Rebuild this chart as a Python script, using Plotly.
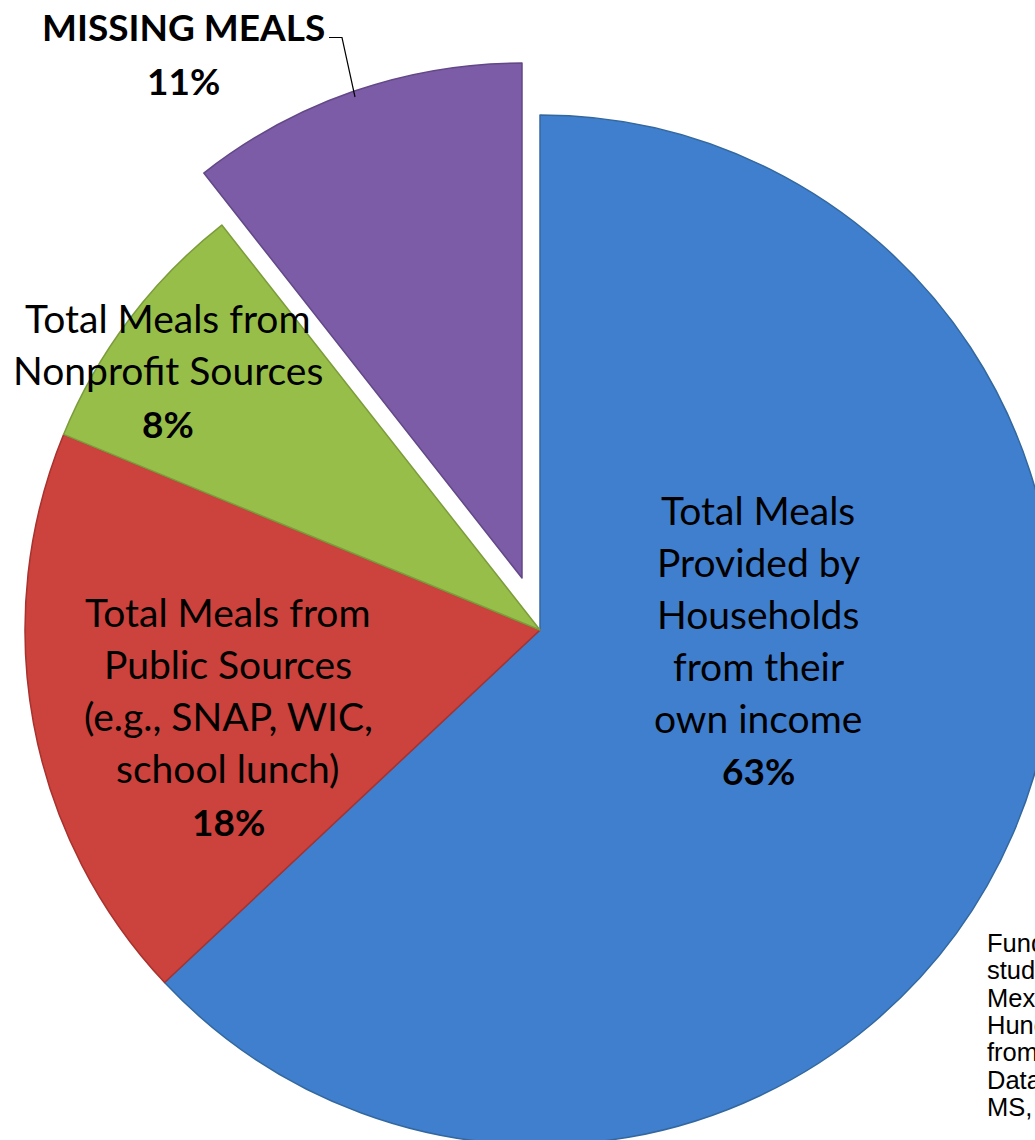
import plotly.graph_objects as go

# ---------------- data ----------------
categories = [
    "Total Meals Provided by Households from their own income",
    "Total Meals from Public Sources (e.g., SNAP, WIC, school lunch)",
    "Total Meals from Nonprofit Sources",
    "MISSING MEALS",
]
shares = [63.0, 18.2, 8.2, 10.6]          # slice sizes
share_labels = ["63%", "18%", "8%", "11%"]  # printed labels
slice_colors = ["#407FCE", "#CC423D", "#98BE4A", "#7C5BA7"]
edge_colors = ["#33689F", "#A8322E", "#7C9C3B", "#634887"]
exploded_category = "MISSING MEALS"

label_lines = [
    ["Total Meals", "Provided by", "Households", "from their", "own income"],
    ["Total Meals from", "Public Sources", "(e.g., SNAP, WIC,", "school lunch)"],
    ["Total Meals from", "Nonprofit Sources"],
    ["MISSING MEALS"],
]
note_lines = ["Funding", "study", "Mexico", "Hunger", "from", "Data", "MS,"]

# ---------------- layout helpers ----------------
W, H = 1060, 1150
CX, CY, R = 540, 630, 515
PULL_DX, PULL_DY = -18, -52


def fx(px):
    return px / W


def fy(py):
    return 1 - py / H


def domain_at(cx, cy):
    return dict(x=[fx(cx - R), fx(cx + R)], y=[fy(cy + R), fy(cy - R)])


transparent = "rgba(0,0,0,0)"
base_colors = [transparent if c == exploded_category else col
               for c, col in zip(categories, slice_colors)]
base_edges = [transparent if c == exploded_category else col
              for c, col in zip(categories, edge_colors)]
pulled_colors = [col if c == exploded_category else transparent
                 for c, col in zip(categories, slice_colors)]
pulled_edges = [col if c == exploded_category else transparent
                for c, col in zip(categories, edge_colors)]

fig = go.Figure()
fig.add_trace(go.Pie(
    labels=categories, values=shares, sort=False, direction="clockwise",
    rotation=0, textinfo="none", hoverinfo="label+percent",
    marker=dict(colors=base_colors, line=dict(color=base_edges, width=1.5)),
    domain=domain_at(CX, CY), showlegend=False,
))
fig.add_trace(go.Pie(
    labels=categories, values=shares, sort=False, direction="clockwise",
    rotation=0, textinfo="none", hoverinfo="skip",
    marker=dict(colors=pulled_colors, line=dict(color=pulled_edges, width=1.5)),
    domain=domain_at(CX + PULL_DX, CY + PULL_DY), showlegend=False,
))

FONT = "Lato, 'Open Sans', sans-serif"
FS_REG = 39
FS_BOLD = 37
LINE = 52

# (center x, first line center y) for each label block
block_pos = [(758, 510), (228, 612), (168, 318), (183, 27)]

annotations = []
for lines, lab, (bx, by), cat in zip(label_lines, share_labels, block_pos, categories):
    bold_title = cat == exploded_category
    for i, t in enumerate(lines):
        annotations.append(dict(
            x=fx(bx), y=fy(by + i * LINE), xref="paper", yref="paper",
            text=f"<b>{t}</b>" if bold_title else t, showarrow=False,
            xanchor="center", yanchor="middle",
            font=dict(family=FONT, size=FS_BOLD if bold_title else FS_REG,
                      color="black"),
        ))
    annotations.append(dict(
        x=fx(bx), y=fy(by + len(lines) * LINE + 1),
        xref="paper", yref="paper", text=f"<b>{lab}</b>", showarrow=False,
        xanchor="center", yanchor="middle",
        font=dict(family=FONT, size=FS_BOLD, color="black"),
    ))

for i, t in enumerate(note_lines):
    annotations.append(dict(
        x=fx(987), y=fy(943 + i * 27.3), xref="paper", yref="paper",
        text=t, showarrow=False, xanchor="left", yanchor="middle",
        xshift=-2,
        font=dict(family="'Liberation Sans', Arial, sans-serif", size=25.5, color="black"),
    ))

leader = dict(
    type="path", xref="paper", yref="paper",
    path=f"M {fx(329)} {fy(37.5)} L {fx(342)} {fy(37.5)} L {fx(355)} {fy(97)}",
    line=dict(color="black", width=1.2),
)

fig.update_layout(
    width=W, height=H, autosize=False,
    margin=dict(l=0, r=0, t=0, b=0),
    paper_bgcolor="white", plot_bgcolor="white",
    annotations=annotations, shapes=[leader],
)

fig.write_html(
    "out.html",
    config={"displayModeBar": False},
    post_script=("document.documentElement.style.overflow='hidden';"
                 "document.body.style.overflow='hidden';"
                 "document.body.style.margin='0';"),
)
